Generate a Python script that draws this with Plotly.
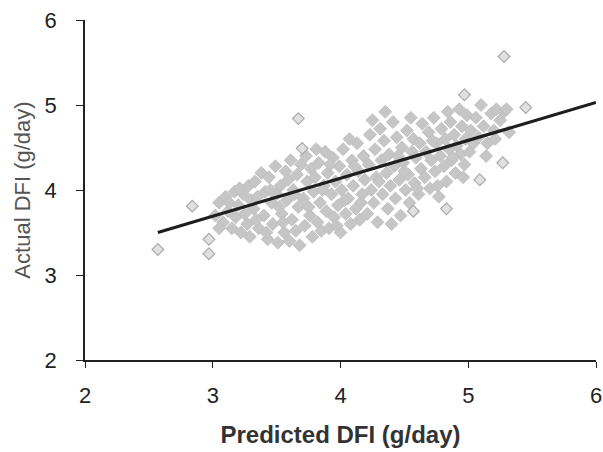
import plotly.graph_objects as go

# Predicted vs. actual daily feed intake (g/day), main cloud of observations
pred = [
    3.02, 3.05, 3.08, 3.10, 3.12, 3.15, 3.17, 3.18, 3.20, 3.22, 3.24, 3.25, 3.27, 3.28, 3.30, 3.05, 3.13, 3.21, 3.29,
    3.32, 3.33, 3.35, 3.36, 3.38, 3.40, 3.41, 3.43, 3.44, 3.46, 3.47, 3.49, 3.50, 3.51, 3.53, 3.54, 3.56, 3.57, 3.58,
    3.60, 3.61, 3.62, 3.63, 3.65, 3.66, 3.67, 3.68, 3.69, 3.34, 3.42, 3.52, 3.59, 3.64, 3.55, 3.45,
    3.71, 3.72, 3.73, 3.74, 3.76, 3.77, 3.78, 3.79, 3.80, 3.82, 3.83, 3.84, 3.85, 3.87, 3.88, 3.89, 3.90, 3.91, 3.93,
    3.94, 3.95, 3.96, 3.98, 3.99, 4.00, 4.01, 4.02, 4.04, 4.05, 4.06, 4.08, 4.09, 4.10, 4.12, 4.13, 4.14, 4.15, 4.17,
    4.18, 4.19, 3.75, 3.86, 3.92, 4.03, 4.11, 3.81, 3.97, 4.07, 4.16,
    4.21, 4.22, 4.23, 4.24, 4.26, 4.27, 4.28, 4.29, 4.31, 4.32, 4.33, 4.34, 4.36, 4.37, 4.38, 4.39, 4.41, 4.42, 4.43,
    4.44, 4.46, 4.47, 4.48, 4.49, 4.51, 4.52, 4.53, 4.54, 4.56, 4.57, 4.58, 4.59, 4.61, 4.62, 4.63, 4.64, 4.25, 4.35,
    4.45, 4.55, 4.30, 4.40, 4.50, 4.60,
    4.66, 4.67, 4.69, 4.70, 4.71, 4.73, 4.74, 4.75, 4.77, 4.78, 4.79, 4.81, 4.82, 4.83, 4.85, 4.86, 4.87, 4.89, 4.90,
    4.91, 4.93, 4.94, 4.95, 4.97, 4.98, 4.99, 5.01, 5.02, 5.04, 4.72, 4.84, 4.96, 4.76, 4.88,
    5.06, 5.08, 5.10, 5.12, 5.15, 5.18, 5.20, 5.22, 5.25, 5.28, 5.32, 5.14, 5.30, 5.21,
]
actual = [
    3.70, 3.85, 3.62, 3.92, 3.75, 3.55, 3.98, 3.68, 3.82, 3.50, 3.95, 3.72, 3.60, 4.05, 3.88, 3.55, 3.85, 4.02, 3.45,
    3.78, 4.10, 3.92, 3.55, 4.20, 3.70, 3.98, 3.42, 4.15, 3.85, 3.60, 4.28, 3.95, 3.38, 4.05, 3.72, 3.50, 4.22, 3.88,
    3.40, 4.35, 3.65, 4.00, 3.52, 4.18, 3.80, 3.35, 4.30, 3.65, 3.50, 3.80, 4.12, 3.95, 3.62, 4.00,
    3.90, 3.58, 4.40, 4.10, 3.70, 4.25, 3.45, 3.98, 4.15, 3.62, 4.32, 3.85, 3.52, 4.05, 4.45, 3.75, 4.20, 3.55, 3.95,
    4.38, 3.68, 4.10, 3.82, 4.28, 3.50, 4.00, 4.48, 3.72, 4.18, 3.90, 3.60, 4.35, 4.05, 3.78, 4.55, 4.22, 3.65, 3.95,
    4.40, 4.12, 3.80, 4.00, 4.30, 3.88, 4.28, 4.48, 3.58, 4.60, 3.85,
    3.72, 4.30, 4.65, 4.00, 3.85, 4.48, 4.15, 3.62, 4.72, 4.35, 3.95, 4.58, 4.20, 3.78, 4.42, 4.05, 4.80, 4.28, 3.90,
    4.62, 4.12, 3.70, 4.50, 4.32, 4.00, 4.70, 4.18, 3.85, 4.45, 4.60, 4.08, 4.38, 3.95, 4.55, 4.25, 4.78, 4.82, 4.92,
    4.40, 4.85, 4.10, 3.60, 4.22, 4.02,
    4.15, 4.45, 4.68, 4.02, 4.35, 4.85, 4.22, 4.55, 3.92, 4.40, 4.72, 4.28, 4.60, 4.10, 4.48, 4.80, 4.35, 4.65, 4.20,
    4.52, 4.95, 4.42, 4.75, 4.30, 4.60, 4.88, 4.45, 4.70, 4.55, 4.58, 4.92, 4.15, 4.05, 4.38,
    4.85, 4.62, 5.00, 4.75, 4.55, 4.90, 4.70, 4.95, 4.82, 4.92, 4.68, 4.40, 4.95, 4.60,
]

# Isolated observations away from the main cloud
pred_out = [2.57, 2.97, 2.97, 2.84, 3.67, 3.70, 5.28, 4.97, 5.27, 5.09, 4.57, 4.83, 5.45]
actual_out = [3.30, 3.42, 3.25, 3.81, 4.84, 4.49, 5.57, 5.12, 4.32, 4.12, 3.75, 3.78, 4.97]

# Fitted regression line end points
fit_x = [2.57, 6.0]
fit_y = [3.50, 5.03]

x_ticks = [2, 3, 4, 5, 6]
y_ticks = [2, 3, 4, 5, 6]

fig = go.Figure()
fig.add_trace(go.Scatter(
    x=pred, y=actual, mode="markers",
    marker=dict(symbol="diamond", size=10, color="#c6c6c6",
                line=dict(color="#bdbdbd", width=0.8)),
    showlegend=False, hoverinfo="x+y",
))
fig.add_trace(go.Scatter(
    x=pred_out, y=actual_out, mode="markers",
    marker=dict(symbol="diamond", size=9, color="#e0e0e0",
                line=dict(color="#aaaaaa", width=1.2)),
    showlegend=False, hoverinfo="x+y",
))
fig.add_trace(go.Scatter(
    x=fit_x, y=fit_y, mode="lines",
    line=dict(color="#1e1e1e", width=3.2),
    showlegend=False, hoverinfo="skip",
))

font_family = "Liberation Sans, Arial, sans-serif"
axis_font = dict(family=font_family, size=22, color="#222222")
fig.update_layout(
    width=603, height=452,
    margin=dict(l=85, r=7, t=20, b=92),
    paper_bgcolor="white", plot_bgcolor="white",
    font=dict(family=font_family),
)
fig.update_xaxes(
    range=[2, 6], tickvals=x_ticks, ticktext=[str(v) for v in x_ticks],
    automargin=False,
    showgrid=False, zeroline=False,
    showline=True, linecolor="#222222", linewidth=1.6,
    ticks="outside", ticklen=6, tickwidth=1.4, tickcolor="#222222",
    tickfont=axis_font, ticklabelstandoff=9,
    title=dict(text="Predicted DFI (g/day)", standoff=19,
               font=dict(family=font_family, size=24, color="#333333", weight="bold")),
)
fig.update_yaxes(
    range=[2, 6], tickvals=y_ticks, ticktext=[str(v) for v in y_ticks],
    automargin=False,
    showgrid=False, zeroline=False,
    showline=True, linecolor="#222222", linewidth=1.6,
    ticks="outside", ticklen=7, tickwidth=1.4, tickcolor="#222222",
    tickfont=axis_font, ticklabelstandoff=15,
    title=dict(text="Actual DFI (g/day)", standoff=8,
               font=dict(family=font_family, size=22, color="#555555")),
)

fig.write_html("out.html")
